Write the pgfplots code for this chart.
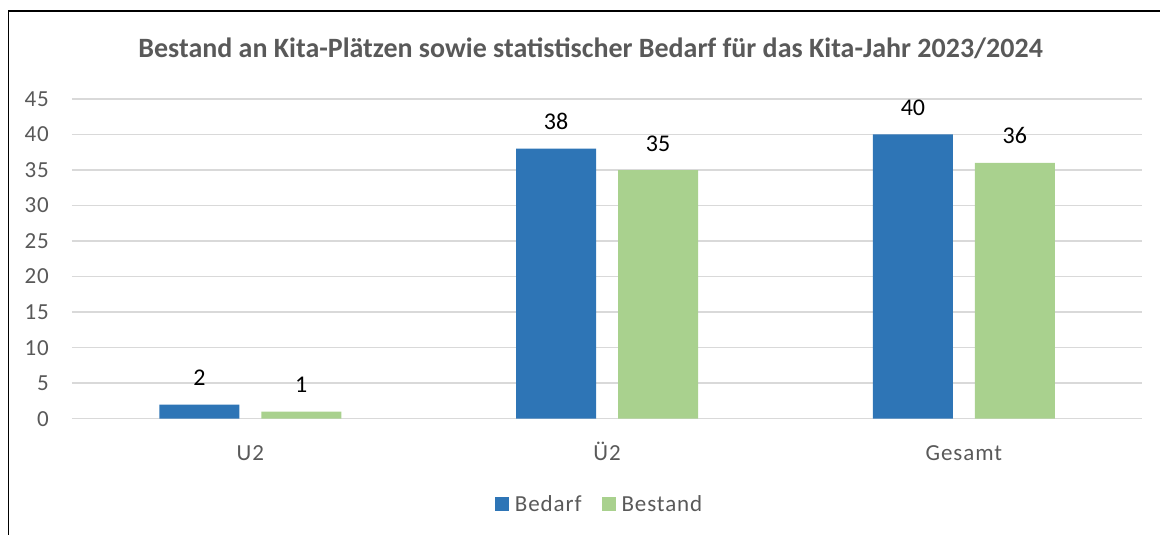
\documentclass[border=0pt]{standalone}
\usepackage{pgfplots}
\pgfplotsset{compat=1.18}
\usepackage{fontspec}
\setmainfont{Carlito}
\newfontfamily\spaced[LetterSpace=4]{Carlito}
\definecolor{cblue}{HTML}{2E75B6}
\definecolor{cgreen}{HTML}{A9D18E}
\definecolor{cgrid}{HTML}{D9D9D9}
\definecolor{ctext}{HTML}{595959}
\begin{document}
\begin{tikzpicture}[x=1pt,y=1pt]
\path (0,0) rectangle (1161,535);
\draw[line width=1.5pt,black] (8.5,0) -- (8.5,524) -- (1161,524);
\begin{axis}[
  at={(72pt,116pt)}, anchor=south west,
  scale only axis, width=1071pt, height=320pt,
  xmin=-0.5, xmax=2.5, ymin=0, ymax=45,
  ytick={0,5,...,45},
  xtick={0,1,2}, xticklabels={U2,Ü2,Gesamt},
  ybar=22pt, bar width=80pt,
  axis line style={draw=none},
  tick style={draw=none},
  ymajorgrids, major grid style={cgrid, line width=1.5pt},
  tick label style={font=\fontsize{23}{27}\selectfont\spaced, text=ctext, inner sep=0pt},
  yticklabel style={anchor=east, xshift=-23pt},
  xticklabel style={anchor=base, yshift=-38pt},
  /pgf/number format/assume math mode=true,
  nodes near coords,
  every node near coord/.append style={font=\fontsize{24}{28}\selectfont, text=black, anchor=base, inner sep=0pt, yshift=19pt},
  title={\fontsize{28}{32}\selectfont\bfseries Bestand an Kita-Plätzen sowie statistischer Bedarf für das Kita-Jahr 2023/2024},
  title style={at={(0.4846,1)}, anchor=center, yshift=45pt, text=ctext, inner sep=0pt},
  legend style={at={(0.493,-0.266)}, anchor=center, draw=none, fill=none,
    font=\fontsize{23}{27}\selectfont\spaced, text=ctext, column sep=4pt,
    /tikz/every even column/.append style={column sep=18pt}},
  legend columns=2,
  legend image code/.code={\fill[#1] (0pt,-7pt) rectangle (14pt,7pt);},
]
\addplot[fill=cblue, draw=none] coordinates {(0,2) (1,38) (2,40)};
\addplot[fill=cgreen, draw=none] coordinates {(0,1) (1,35) (2,36)};
\legend{Bedarf, Bestand}
\end{axis}
\end{tikzpicture}
\end{document}
